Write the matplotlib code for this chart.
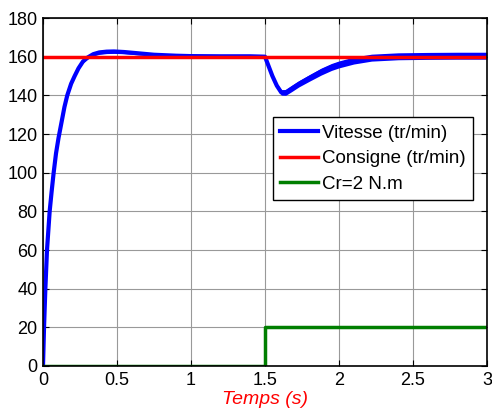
import matplotlib.pyplot as plt
import numpy as np

plt.rcParams['font.family'] = ['Liberation Sans', 'DejaVu Sans']

# speed response (center of the band) and ripple half-width
t = [0, 0.007, 0.016, 0.027, 0.036, 0.045, 0.058, 0.072, 0.088, 0.105, 0.125,
     0.145, 0.164, 0.19, 0.214, 0.24, 0.27, 0.30, 0.34, 0.38, 0.43, 0.48, 0.55,
     0.65, 0.75, 0.9, 1.0, 1.2, 1.4, 1.5, 1.52, 1.55, 1.58, 1.61, 1.64, 1.68,
     1.73, 1.8, 1.88, 1.95, 2.0, 2.1, 2.22, 2.4, 2.6, 2.8, 3.0]
vitesse = [0, 20, 40, 60, 70, 80, 90, 100, 110, 118, 126,
           134, 140, 146, 150, 154, 157.5, 159.5, 161.3, 162.2, 162.6, 162.7, 162.4,
           161.7, 161, 160.5, 160.3, 160.2, 160.2, 160, 156, 150, 145, 141.5, 141.5, 143.5,
           146, 149, 152.3, 154.7, 156, 158, 159.5, 160.2, 160.4, 160.5, 160.5]
ripple = [0, 0, 0, 0, 0, 0, 0, 0, 0, 0, 0,
          0, 0, 0.3, 0.5, 0.6, 0.7, 0.8, 0.9, 1.0, 1.0, 1.0, 0.9,
          0.8, 0.6, 0.5, 0.4, 0.4, 0.4, 0.4, 0.8, 1.0, 1.2, 1.4, 1.5, 1.6,
          1.6, 1.7, 1.8, 1.8, 1.8, 1.8, 1.8, 1.8, 1.8, 1.8, 1.8]

t_cons = [0, 3]
consigne = [160, 160]

t_cr = [0, 1.5, 1.5, 3]
cr = [0, 0, 20, 20]

xticks = [0, 0.5, 1, 1.5, 2, 2.5, 3]
xlabels = ['0', '0.5', '1', '1.5', '2', '2.5', '3']
yticks = list(range(0, 181, 20))

fig = plt.figure(figsize=(4.92, 4.16), dpi=100)
ax = fig.add_axes([0.0874, 0.1202, 0.9024, 0.8365])

v = np.array(vitesse)
r = np.array(ripple)
ax.fill_between(t, v - r, v + r, color='#0000ff', lw=0)
ax.plot(t, vitesse, color='#0000ff', lw=3, label='Vitesse (tr/min)')
ax.plot(t_cons, consigne, color='#ff0000', lw=2.5, label='Consigne (tr/min)')
ax.plot(t_cr, cr, color='#007f00', lw=2.5, label='Cr=2 N.m')

ax.set_xlim(0, 3)
ax.set_ylim(0, 180)
ax.set_xticks(xticks)
ax.set_xticklabels(xlabels)
ax.set_yticks(yticks)
ax.grid(True, color='#999999', lw=0.8)
ax.set_axisbelow(True)
ax.tick_params(direction='in', top=True, right=True, labelsize=13, pad=4, length=4)
for s in ax.spines.values():
    s.set_linewidth(1.2)
ax.set_xlabel('Temps (s)', color='#ff0000', style='italic', fontsize=14, labelpad=2)

leg = ax.legend(loc='upper left', bbox_to_anchor=(0.518, 0.7155), borderaxespad=0,
                fontsize=13.5, fancybox=False, framealpha=1, edgecolor='black',
                handlelength=2.0, handletextpad=0.2, labelspacing=0.45, borderpad=0.4)
leg.get_frame().set_linewidth(1.0)

plt.savefig('out.png', dpi=100)
